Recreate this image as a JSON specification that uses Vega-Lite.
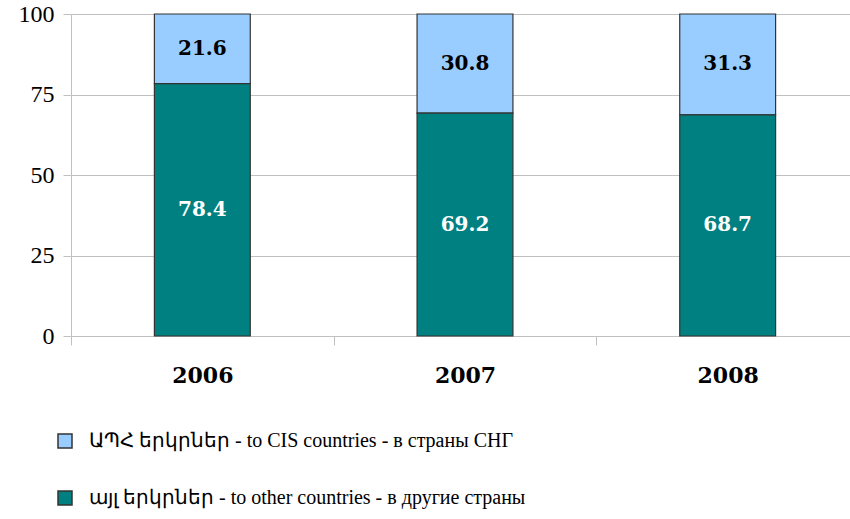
{
  "$schema": "https://vega.github.io/schema/vega-lite/v6.json",
  "autosize": "none",
  "width": 788,
  "height": 322,
  "padding": {"left": 71, "top": 14, "right": 0, "bottom": 183},
  "background": "white",
  "config": {
    "font": "Liberation Serif",
    "axis": {"labelFont": "Liberation Serif"},
    "axisY": {"labelFont": "Liberation Serif"},
    "view": {"stroke": null}
  },
  "data": {
    "values": [
      {"year": "2006", "series": "ԱՊՀ երկրներ - to CIS countries - в страны СНГ", "value": 21.6},
      {"year": "2006", "series": "այլ երկրներ - to other countries - в другие страны", "value": 78.4},
      {"year": "2007", "series": "ԱՊՀ երկրներ - to CIS countries - в страны СНГ", "value": 30.8},
      {"year": "2007", "series": "այլ երկրներ - to other countries - в другие страны", "value": 69.2},
      {"year": "2008", "series": "ԱՊՀ երկրներ - to CIS countries - в страны СНГ", "value": 31.3},
      {"year": "2008", "series": "այլ երկրներ - to other countries - в другие страны", "value": 68.7}
    ]
  },
  "encoding": {
    "x": {
      "field": "year", "type": "nominal",
      "scale": {"paddingInner": 0, "paddingOuter": 0},
      "axis": {
        "title": null, "labelAngle": 0, "labelFont": "DejaVu Serif", "labelFontSize": 22,
        "labelFontWeight": "bold", "labelColor": "black", "labelPadding": 20,
        "tickBand": "extent", "tickSize": 9, "tickColor": "#c0c0c0", "domainColor": "#c0c0c0",
        "grid": false
      }
    }
  },
  "layer": [
    {
      "mark": {"type": "bar", "stroke": "#333333", "strokeWidth": 1.2, "width": {"band": 0.365}},
      "encoding": {
        "y": {
          "field": "value", "type": "quantitative", "stack": "zero",
          "scale": {"domain": [0, 100]},
          "axis": {
            "title": null, "values": [0, 25, 50, 75, 100], "labelFontSize": 24,
            "labelFont": "Liberation Serif", "labelFontWeight": "normal",
            "labelColor": "black", "labelPadding": 9, "tickSize": 8, "tickColor": "#c0c0c0",
            "domainColor": "#c0c0c0", "gridColor": "#c0c0c0", "gridWidth": 1
          }
        },
        "color": {
          "field": "series", "type": "nominal",
          "scale": {
            "domain": ["ԱՊՀ երկրներ - to CIS countries - в страны СНГ", "այլ երկրներ - to other countries - в другие страны"],
            "range": ["#99ccff", "#008080"]
          },
          "legend": {
            "title": null, "orient": "none", "direction": "vertical",
            "legendX": -16, "legendY": 417,
            "symbolType": "square", "symbolSize": 196, "symbolStrokeColor": "#333333",
            "symbolStrokeWidth": 1.5, "labelFontSize": 20, "labelColor": "black",
            "labelFont": "Liberation Serif", "rowPadding": 37, "labelOffset": 14,
            "labelLimit": 0
          }
        },
        "order": {"field": "series", "sort": "descending"}
      }
    },
    {
      "mark": {"type": "text", "fontSize": 20, "fontWeight": "bold", "baseline": "middle", "font": "DejaVu Serif"},
      "encoding": {
        "y": {"field": "value", "type": "quantitative", "stack": "zero", "bandPosition": 0.5},
        "detail": {"field": "series"},
        "order": {"field": "series", "sort": "descending"},
        "text": {"field": "value", "type": "quantitative", "format": ".1f"},
        "color": {
          "condition": {"test": "datum.value > 50", "value": "white"},
          "value": "black"
        }
      }
    }
  ]
}
